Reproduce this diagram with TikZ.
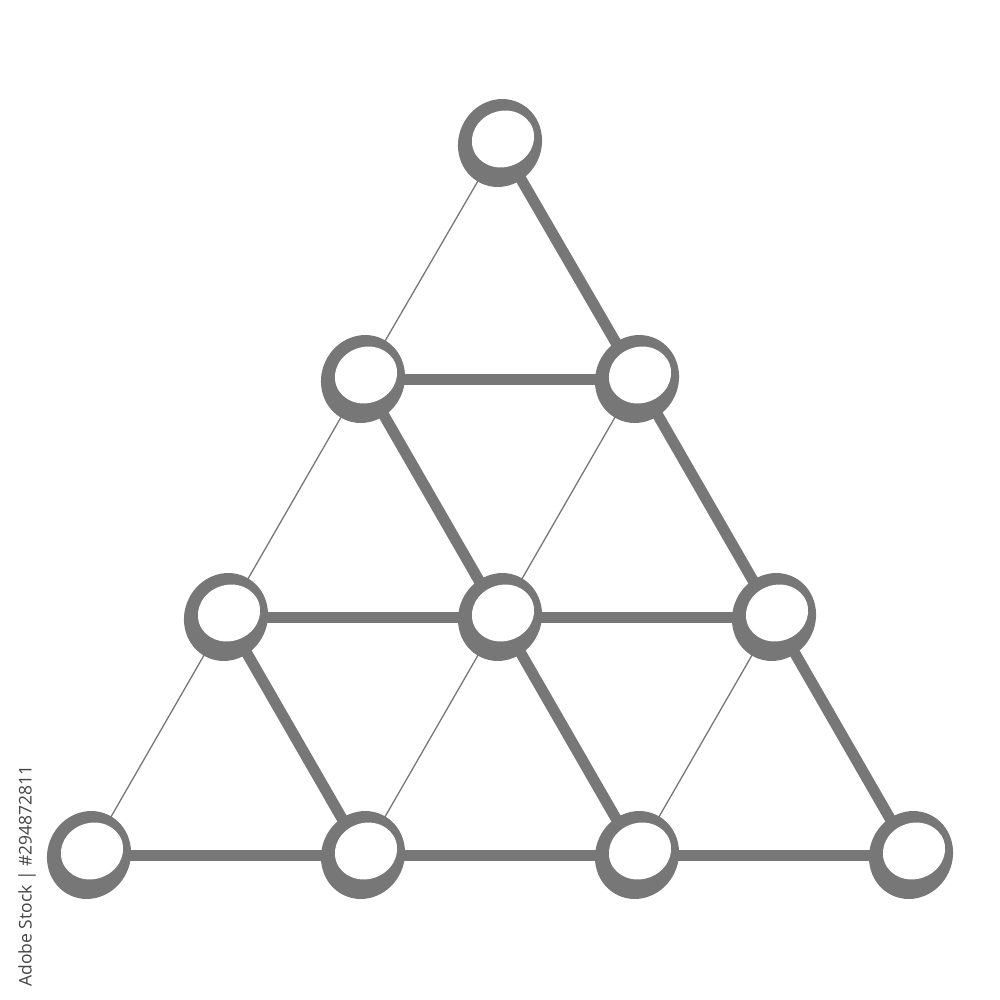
\documentclass[tikz,border=0pt]{standalone}
\usepackage{fontspec}
\setmainfont{Open Sans}
\usetikzlibrary{shapes.geometric,backgrounds}
\definecolor{lg}{HTML}{777777}
\definecolor{wm}{HTML}{444444}
\tikzset{
  ringout/.style={ellipse, fill=lg, draw=none, inner sep=0pt, minimum width=83pt, minimum height=89pt, rotate=-25},
  ringin/.style={ellipse, fill=white, draw=none, inner sep=0pt, minimum width=63pt, minimum height=56pt, rotate=20},
  thick edge/.style={draw=lg, line width=11pt},
  thin edge/.style={draw=lg, line width=1.3pt},
}
\begin{document}
\begin{tikzpicture}[x=1pt,y=-1pt]
\useasboundingbox (0,0) rectangle (1000,1000);
% nodes (outer rings)
\foreach \n/\x/\y in {a/500/143, b/363/379, c/637/379, d/226/617, e/500/617, f/774/617, g/89/855, h/363/855, i/637/855, j/911/855}{
  \node[ringout] (\n) at (\x,\y) {};
  \node[ringin] (\n-in) at (\x+3,\y-4) {};
}
\begin{pgfonlayer}{background}
% thick edges
\foreach \s/\t in {b/c, d/e, e/f, g/h, h/i, i/j, a/c, b/e, c/f, d/h, e/i, f/j}{
  \draw[thick edge] (\s.center) -- (\t.center);
}
% thin edges
\foreach \s/\t in {a/b, b/d, c/e, d/g, e/h, f/i}{
  \draw[thin edge] (\s.center) -- (\t.center);
}
\end{pgfonlayer}
\node[rotate=90, text=wm, font=\fontsize{17.5}{20}\selectfont, inner sep=0pt] (wmk) at (27,876) {Adobe Stock | \#294872811};
\end{tikzpicture}
\end{document}
